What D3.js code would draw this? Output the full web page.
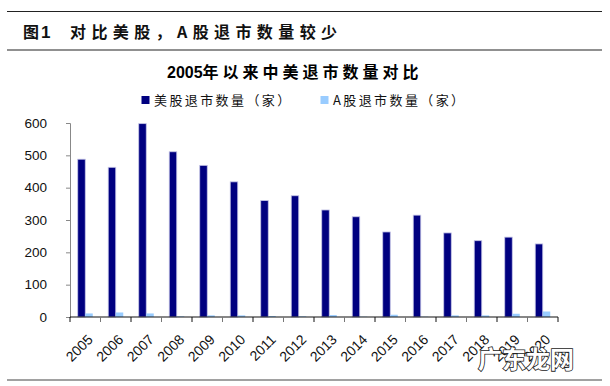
<!DOCTYPE html>
<html>
<head>
<meta charset="utf-8">
<script src="https://cdn.jsdelivr.net/npm/d3@7"></script>
<style>
  body { margin: 0; background: #fff; }
  svg { display: block; }
  .cjk { font-family: "Noto Sans CJK SC", sans-serif; }
  .num { font-family: "Liberation Sans", Arial, sans-serif; }
</style>
</head>
<body>
<div id="chart"></div>
<script>
// data
const years = ["2005","2006","2007","2008","2009","2010","2011","2012",
  "2013","2014","2015","2016","2017","2018","2019","2020"];
const usDelist = [488, 463, 598, 511, 469, 418, 360, 375, 331, 310, 263, 315, 260, 236, 247, 226];
const aDelist = [11, 14, 11, 2, 5, 5, 3, 2, 6, 1, 7, 1, 5, 5, 10, 17];
const yTicks = [0, 100, 200, 300, 400, 500, 600];
const seriesNames = ["美股退市数量（家）", "A股退市数量（家）"];
const seriesColors = ["#000080", "#99ccff"];

const W = 610, H = 386;
const margin = { top: 123, right: 52, bottom: 69, left: 70 };
const width = W - margin.left - margin.right,
  height = H - margin.top - margin.bottom;

let svg = d3.select("#chart").append("svg")
  .attr("width", W)
  .attr("height", H);

// frame lines + header
svg.append("line").attr("x1", 7).attr("x2", 602).attr("y1", 11.5).attr("y2", 11.5)
  .attr("stroke", "#222").attr("stroke-width", 1.2);
svg.append("line").attr("x1", 7).attr("x2", 602).attr("y1", 50).attr("y2", 50)
  .attr("stroke", "#222").attr("stroke-width", 1.2);
svg.append("line").attr("x1", 7).attr("x2", 602).attr("y1", 380).attr("y2", 380)
  .attr("stroke", "#444").attr("stroke-width", 1.2);

let head = svg.append("text")
  .attr("x", 23).attr("y", 38)
  .style("font-weight", "bold").style("fill", "#111");
head.append("tspan").attr("class", "cjk").style("font-size", "16px").text("图");
head.append("tspan").attr("class", "num").attr("dx", 2).style("font-size", "17px").text("1");
svg.append("text").attr("class", "cjk")
  .attr("x", 70).attr("y", 38)
  .style("font-size", "16px").style("font-weight", "bold").style("fill", "#111")
  .style("letter-spacing", "5.4px")
  .text("对比美股，A股退市数量较少");

// chart title
let title = svg.append("text")
  .attr("x", 167).attr("y", 78)
  .style("font-weight", "bold").style("fill", "#000");
title.append("tspan").attr("class", "num").style("font-size", "16px").text("2005");
title.append("tspan").attr("class", "cjk").style("font-size", "16px")
  .style("letter-spacing", "4px").text("年以来中美退市数量对比");

// legend
let legendX = [141.5, 320.5];
let legend = svg.selectAll(".legend")
  .data(seriesNames)
  .enter().append("g")
  .attr("class", "legend")
  .attr("transform", (d, i) => "translate(" + legendX[i] + ",96)");
legend.append("rect")
  .attr("width", 8).attr("height", 8)
  .style("fill", (d, i) => seriesColors[i]);
legend.append("text").attr("class", "cjk")
  .attr("x", 12.5).attr("y", 9)
  .style("font-size", "13px").style("letter-spacing", "2.4px").style("fill", "#111")
  .text(d => d);

let g = svg.append("g")
  .attr("transform", "translate(" + margin.left + "," + margin.top + ")");

let x = d3.scaleBand().domain(years).range([0, width]).padding(0);
let xSub = d3.scaleBand().domain([0, 1]).range([0, x.bandwidth()])
  .paddingInner(0).paddingOuter(1.03);
let y = d3.scaleLinear().domain([0, 600]).range([height, 0]);

// y axis
let yAxis = g.append("g")
  .call(d3.axisLeft(y).tickValues(yTicks).tickSize(4).tickPadding(19));
yAxis.select(".domain").attr("stroke", "#888");
yAxis.selectAll(".tick line").attr("stroke", "#888");
yAxis.selectAll("text").attr("class", "num")
  .style("font-size", "13.5px").style("fill", "#111");

// bars
let groups = g.selectAll(".yr")
  .data(years)
  .enter().append("g")
  .attr("transform", d => "translate(" + x(d) + ",0)");

groups.append("rect")
  .attr("x", xSub(0))
  .attr("y", (d, i) => y(usDelist[i]))
  .attr("width", xSub.bandwidth())
  .attr("height", (d, i) => height - y(usDelist[i]))
  .style("fill", seriesColors[0])
  .style("stroke", "#c4c4e6")
  .style("stroke-width", 0.8);

groups.append("rect")
  .attr("x", xSub(1))
  .attr("y", (d, i) => y(aDelist[i]))
  .attr("width", xSub.bandwidth())
  .attr("height", (d, i) => height - y(aDelist[i]))
  .style("fill", seriesColors[1]);

// x axis: ticks on category boundaries, labels at centres
let xAxis = g.append("g").attr("transform", "translate(0," + height + ")");
xAxis.append("line").attr("x1", 0).attr("x2", width)
  .attr("stroke", "#111").attr("stroke-width", 1.2);
xAxis.selectAll(".bt")
  .data(years.concat(["end"]))
  .enter().append("line")
  .attr("x1", d => d === "end" ? width : x(d))
  .attr("x2", d => d === "end" ? width : x(d))
  .attr("y1", 0).attr("y2", 5)
  .attr("stroke", (d, i) => i % 2 ? "#777" : "#111");

xAxis.selectAll(".lbl")
  .data(years)
  .enter().append("text")
  .attr("class", "num")
  .attr("transform", d => "translate(" + (x(d) + x.bandwidth() / 2 + 5) + ",20) rotate(-45)")
  .attr("text-anchor", "end")
  .attr("dy", "0.35em")
  .style("font-size", "14px").style("fill", "#111")
  .text(d => d);

// watermark
svg.append("text").attr("class", "cjk")
  .attr("x", 478).attr("y", 368)
  .style("font-size", "24px").style("font-weight", "bold")
  .style("fill", "#fff").style("stroke", "#222").style("stroke-width", 1.6)
  .style("paint-order", "stroke")
  .text("广东龙网");
</script>
</body>
</html>
